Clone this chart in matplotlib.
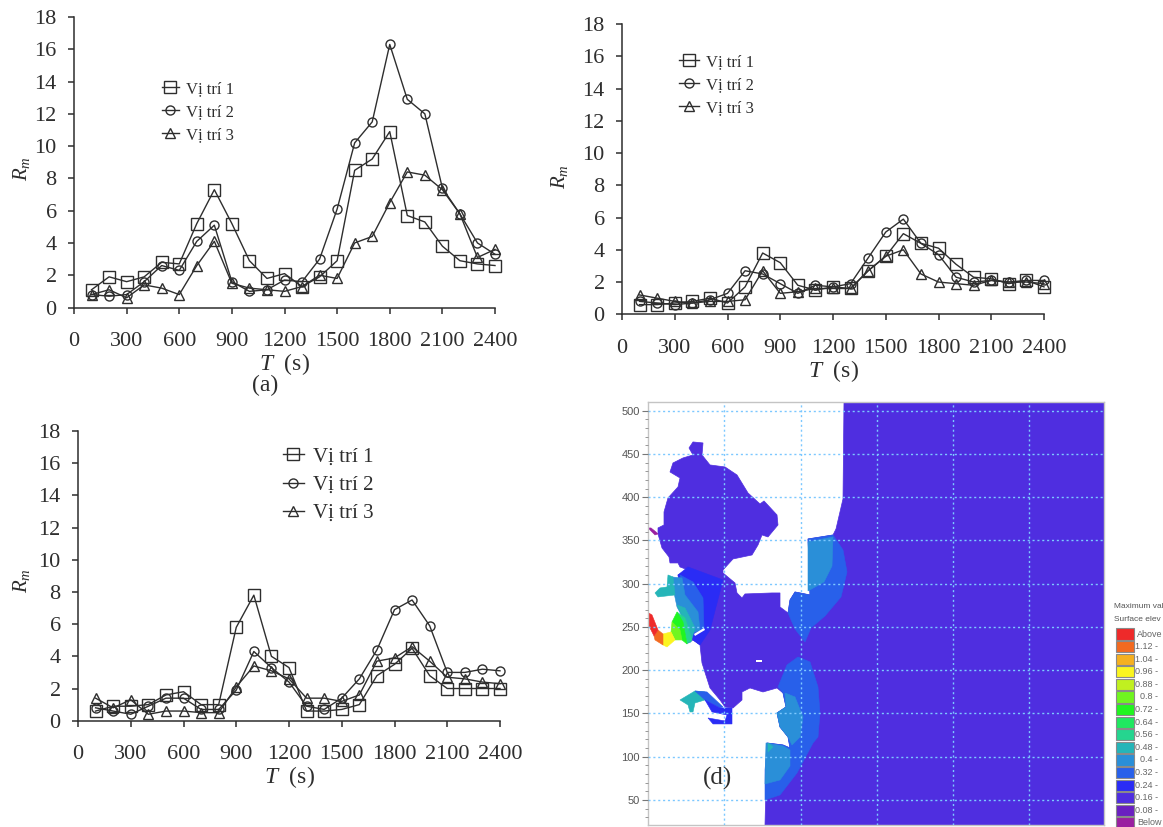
import matplotlib
matplotlib.use('Agg')
import matplotlib.pyplot as plt
from matplotlib.patches import Polygon

plt.rcParams['font.family'] = ['Liberation Serif', 'DejaVu Serif']
plt.rcParams['mathtext.fontset'] = 'custom'
plt.rcParams['mathtext.rm'] = 'Liberation Serif'
plt.rcParams['mathtext.it'] = 'Liberation Serif:italic'

W, H = 1163, 827
INK = '#2e2e2e'

times = list(range(100, 2500, 100))
x_ticks = list(range(0, 2700, 300))
y_ticks = list(range(0, 20, 2))
series_names = ['Vị trí 1', 'Vị trí 2', 'Vị trí 3']

a_v1 = [1.1, 1.9, 1.6, 1.9, 2.8, 2.7, 5.2, 7.3, 5.2, 2.9, 1.8, 2.1, 1.3, 1.9, 2.9, 8.5, 9.2, 10.9, 5.7, 5.3, 3.8, 2.9, 2.7, 2.6]
a_v2 = [0.8, 0.7, 0.8, 1.6, 2.6, 2.3, 4.1, 5.1, 1.6, 1.0, 1.1, 1.7, 1.6, 3.0, 6.1, 10.2, 11.5, 16.3, 12.9, 12.0, 7.4, 5.8, 4.0, 3.3]
a_v3 = [0.8, 1.1, 0.6, 1.4, 1.2, 0.8, 2.6, 4.1, 1.5, 1.2, 1.1, 1.0, 1.3, 2.0, 1.8, 4.0, 4.4, 6.5, 8.4, 8.2, 7.3, 5.8, 3.1, 3.6]

b_v1 = [0.6, 0.6, 0.7, 0.8, 1.0, 0.7, 1.7, 3.8, 3.2, 1.8, 1.5, 1.7, 1.6, 2.7, 3.6, 5.0, 4.4, 4.1, 3.1, 2.3, 2.2, 1.9, 2.1, 1.7]
b_v2 = [0.8, 0.7, 0.6, 0.7, 0.9, 1.3, 2.7, 2.5, 1.9, 1.3, 1.8, 1.7, 1.9, 3.5, 5.1, 5.9, 4.4, 3.7, 2.3, 2.0, 2.1, 2.0, 2.1, 2.1]
b_v3 = [1.2, 1.0, 0.8, 0.7, 0.8, 0.8, 0.9, 2.7, 1.3, 1.4, 1.6, 1.6, 1.6, 2.7, 3.6, 4.0, 2.5, 2.0, 1.9, 1.8, 2.1, 2.0, 2.0, 1.9]

c_v1 = [0.6, 0.9, 0.9, 1.0, 1.6, 1.8, 1.0, 1.0, 5.8, 7.8, 4.0, 3.3, 0.6, 0.6, 0.7, 1.0, 2.8, 3.5, 4.5, 2.8, 2.0, 2.0, 2.0, 2.0]
c_v2 = [0.8, 0.6, 0.4, 0.9, 1.4, 1.4, 0.7, 0.7, 1.9, 4.3, 3.3, 2.4, 0.9, 0.7, 1.4, 2.6, 4.4, 6.9, 7.5, 5.9, 3.0, 3.0, 3.2, 3.1]
c_v3 = [1.4, 0.8, 1.3, 0.4, 0.6, 0.6, 0.5, 0.5, 2.1, 3.4, 3.1, 2.6, 1.4, 1.4, 1.2, 1.6, 3.7, 3.9, 4.6, 3.7, 2.7, 2.6, 2.4, 2.3]

# colour scale of the map
scale_labels = ['Above', '1.12 -', '1.04 -', '0.96 -', '0.88 -', '0.8 -', '0.72 -', '0.64 -', '0.56 -', '0.48 -', '0.4 -', '0.32 -', '0.24 -', '0.16 -', '0.08 -', 'Below']
scale_colors = ['#ee2a2a', '#f26a20', '#f5b020', '#fbf520', '#c0f020', '#70f520', '#20f520', '#20e860', '#25d58f', '#25b5b8', '#2a8fd8', '#2860ea', '#2a2cf5', '#4f2ee0', '#6a20c0', '#9a1fa0']

# map outlines (converted by to_map)
water = [(844, 402), (1104, 402), (1104, 825), (765, 825), (767, 743), (783, 745), (790, 748), (788, 737), (780, 727), (777, 713), (786, 707), (783, 693), (777, 688), (763, 692), (750, 688), (742, 692), (742, 700), (733, 708), (725, 707), (720, 700), (710, 688), (702, 663), (700, 645), (693, 640), (688, 643), (678, 575),
         (688, 570), (680, 567), (678, 563), (670, 563), (669, 557), (662, 548), (658, 534), (658, 528), (664, 525), (664, 512), (668, 498), (678, 487), (680, 478), (670, 472), (673, 463), (683, 458), (693, 455), (689, 448), (693, 442), (703, 443), (702, 455), (710, 465), (725, 467), (737, 475), (748, 493), (760, 504), (764, 501), (777, 515), (778, 525), (768, 537), (762, 535), (758, 545), (752, 555), (733, 559), (723, 570), (723, 573),
         (735, 583), (737, 593), (742, 598), (745, 594), (772, 593), (780, 593), (780, 607), (788, 613), (790, 600), (795, 592), (810, 595), (808, 539), (833, 535), (836, 529), (843, 499)]
lake_tail = [(648, 528), (651, 528), (656, 532), (658, 534), (655, 535)]
north_outer = [(833, 535), (843, 550), (847, 572), (841, 597), (825, 616), (811, 628), (805, 642), (795, 629), (788, 613), (790, 600), (795, 592), (810, 595), (808, 539)]
north_inner = [(808, 542), (833, 537), (832, 566), (824, 582), (808, 591)]
south_outer = [(787, 665), (798, 657), (810, 662), (818, 687), (820, 713), (818, 737), (813, 743), (797, 773), (780, 795), (765, 800), (765, 770), (767, 743), (783, 745), (790, 748), (788, 737), (780, 727), (777, 713), (786, 707), (783, 693), (778, 687)]
south_inner = [(785, 693), (795, 697), (803, 717), (800, 737), (792, 745), (788, 737), (780, 727), (777, 713), (786, 707)]
south_inner2 = [(766, 743), (783, 746), (790, 750), (790, 766), (780, 780), (765, 784)]
south_teal = [(768, 743), (773, 747), (768, 752)]
west_dark = [(688, 567), (723, 580), (710, 630), (700, 645), (693, 640), (678, 575)]
west_mid = [(680, 575), (693, 582), (703, 598), (704, 628), (695, 633), (685, 598)]
west_light = [(672, 577), (682, 578), (685, 595), (698, 612), (700, 630), (693, 633), (690, 643), (685, 622), (677, 607), (673, 588)]
west_teal = [(668, 575), (673, 577), (675, 595), (658, 597), (655, 593), (660, 588), (667, 587)]
west_teal2 = [(677, 605), (685, 608), (695, 628), (691, 642), (683, 618)]
west_sea = [(677, 612), (685, 618), (692, 640), (687, 644), (683, 625)]
west_green = [(672, 622), (677, 612), (683, 622), (687, 644), (682, 640)]
strip_lime = [(671, 632), (672, 622), (680, 630), (682, 640), (675, 640)]
strip_yellow = [(663, 634), (671, 632), (675, 640), (667, 647), (663, 645)]
strip_orange = [(654, 636), (658, 630), (663, 634), (663, 645), (655, 640)]
strip_red = [(647, 612), (652, 615), (658, 630), (654, 636), (647, 622)]
creek_teal = [(680, 700), (695, 691), (705, 692), (705, 700), (695, 703), (693, 712), (690, 712), (688, 705)]
creek_blue = [(695, 691), (707, 692), (723, 707), (720, 708), (705, 700)]
creek_dark = [(705, 700), (720, 708), (732, 708), (732, 724), (713, 724), (708, 718), (725, 721), (727, 715), (712, 712)]
islet = [(756, 660), (762, 660), (762, 662.5), (756, 662.5)]
slit = [(694, 634), (704, 628), (705, 630), (695, 636)]
map_y_ticks = list(range(50, 550, 50))
map_x_grid = list(range(100, 600, 100))


def px_axes(left, top, right, bottom):
    return fig.add_axes([left / W, 1 - bottom / H, (right - left) / W, (bottom - top) / H])


def to_map(points):
    return [((x - 648) / 456 * 598, 500 - (y - 410.7) / 0.865) for x, y in points]


def line_panel(box, values, leg_pos, leg_size, leg_handle, ylab_y):
    ax = px_axes(*box)
    markers = ['s', 'o', '^']
    sizes = [8, 6.5, 6.5]
    for vals, m, s, name in zip(values, markers, sizes, series_names):
        ax.plot(times, vals, color=INK, lw=1.0, marker=m, ms=s, mfc='none', mew=1.0, label=name, clip_on=False)
    ax.set_xlim(0, 2400)
    ax.set_ylim(0, 18)
    ax.set_xticks(x_ticks)
    ax.set_yticks(y_ticks)
    ax.spines['top'].set_visible(False)
    ax.spines['right'].set_visible(False)
    for side in ['left', 'bottom']:
        ax.spines[side].set_linewidth(1.1)
        ax.spines[side].set_color(INK)
    ax.tick_params(axis='x', length=4.5, width=1.1, color=INK, pad=13, labelsize=16, labelcolor=INK)
    ax.tick_params(axis='y', length=4.5, width=1.1, color=INK, pad=8, labelsize=16, labelcolor=INK)
    ax.set_xlabel(r'$T$  (s)', fontsize=17, color=INK, labelpad=0)
    fig.text(22 / W if box[0] < 300 else (box[0] - 62) / W, 1 - ylab_y / H, r'$R_m$', rotation=90,
             fontsize=15, color=INK, ha='center', va='center')
    ax.legend(loc='upper left', bbox_to_anchor=(leg_pos[0] / W, 1 - leg_pos[1] / H), bbox_transform=fig.transFigure,
              frameon=False, fontsize=leg_size, borderpad=0, borderaxespad=0, handlelength=leg_handle,
              handletextpad=0.42, labelspacing=0.42, labelcolor=INK)
    return ax


fig = plt.figure(figsize=(W / 100, H / 100), dpi=100, facecolor='white')

line_panel((74, 17, 495, 307.5), [a_v1, a_v2, a_v3], (162, 81), 12, 1.0, 169)
fig.text(265 / W, 1 - 385 / H, '(a)', fontsize=17, color=INK, ha='center', va='center')
line_panel((622, 24, 1044, 314.3), [b_v1, b_v2, b_v3], (679, 54), 12, 1.2, 177)
line_panel((78, 431, 500, 720.7), [c_v1, c_v2, c_v3], (283, 447), 15, 1.0, 581)

# map panel
axd = px_axes(648, 402, 1104, 825)
axd.set_xlim(0, 598)
axd.set_ylim(21, 510)
axd.add_patch(Polygon(to_map(water), fc=scale_colors[13], ec=scale_colors[13], lw=0.5))
zones = [(north_outer, 11), (north_inner, 10), (south_outer, 11), (south_inner, 10), (south_inner2, 10), (south_teal, 9),
         (west_dark, 12), (west_mid, 11), (west_light, 10), (west_teal, 9), (west_teal2, 9), (west_sea, 8), (west_green, 6),
         (strip_lime, 5), (strip_yellow, 3), (strip_orange, 1), (strip_red, 0),
         (creek_teal, 9), (creek_blue, 11), (creek_dark, 12), (lake_tail, 15)]
for outline, idx in zones:
    axd.add_patch(Polygon(to_map(outline), fc=scale_colors[idx], ec=scale_colors[idx], lw=0.4))
for outline in [islet, slit]:
    axd.add_patch(Polygon(to_map(outline), fc='white', ec='none'))
axd.set_yticks(map_y_ticks)
axd.set_yticks(list(range(30, 510, 10)), minor=True)
axd.set_xticks(map_x_grid)
axd.tick_params(axis='x', length=0, labelbottom=False)
axd.tick_params(axis='y', which='major', length=4, width=0.8, color='#777777', labelsize=8, labelcolor='#555555', pad=2)
axd.tick_params(axis='y', which='minor', length=2, width=0.6, color='#888888')
for lab in axd.get_yticklabels():
    lab.set_family(['Liberation Sans', 'DejaVu Sans'])
axd.grid(True, color='#7cc8ff', lw=1.0, ls=(0, (1.5, 2)))
axd.set_axisbelow(False)
for s in axd.spines.values():
    s.set_color('#c4c4c4')
    s.set_linewidth(1)
fig.text(718 / W, 1 - 778 / H, '(d)', fontsize=18, color=INK, ha='center', va='center')

# colour scale
axs = px_axes(1112, 600, 1163, 827)
axs.set_xlim(1112, 1163)
axs.set_ylim(15.32, -2.7)
axs.axis('off')
axs.barh(range(len(scale_colors)), [18] * len(scale_colors), left=1116, height=0.88, color=scale_colors, edgecolor='#8a8a8a', lw=0.8)
for i, lab in enumerate(scale_labels):
    left_side = lab in ('Above', 'Below')
    axs.text(1137 if left_side else 1158, i, lab, ha='left' if left_side else 'right', va='center',
             fontsize=6.5, color='#666666', family=['Liberation Sans', 'DejaVu Sans'])
axs.text(1114, -2.2, 'Maximum val', fontsize=6, color='#555555', va='center', family=['Liberation Sans', 'DejaVu Sans'])
axs.text(1114, -1.17, 'Surface elev', fontsize=6, color='#555555', va='center', family=['Liberation Sans', 'DejaVu Sans'])

fig.savefig('out.png', dpi=100)
